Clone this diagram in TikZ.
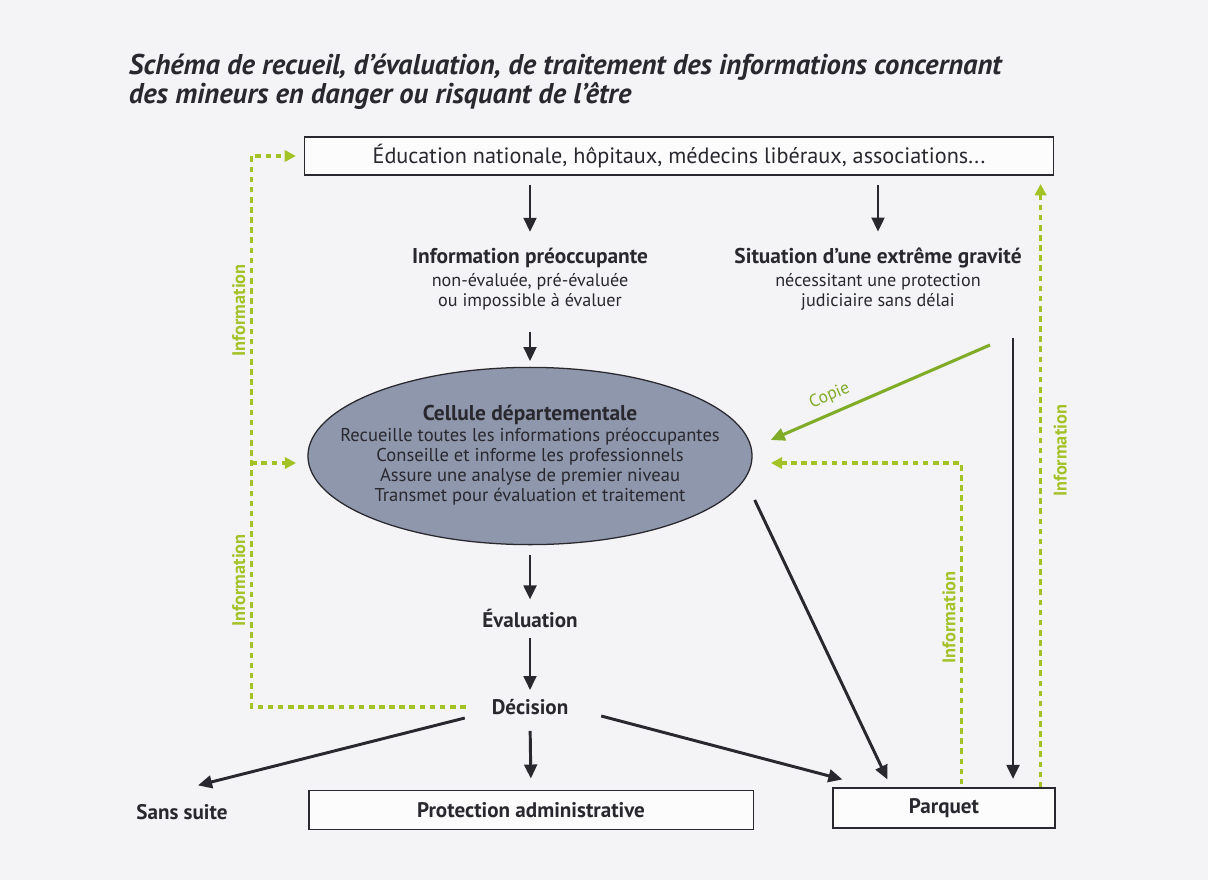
\documentclass[tikz,border=0pt]{standalone}
\usepackage{fontspec}
\setmainfont{PT Sans}
\usetikzlibrary{arrows.meta,positioning,calc,shapes.geometric}
\definecolor{fond}{RGB}{244,244,247}
\definecolor{noir}{RGB}{40,40,46}
\definecolor{vertcopie}{RGB}{128,172,40}
\definecolor{vertinfo}{RGB}{163,194,38}
\definecolor{gris}{RGB}{143,151,173}
\tikzset{
    fleche/.style={draw=noir, line width=2.1pt, -{Triangle[length=10pt,width=9pt]}},
    info/.style={draw=vertinfo, line width=2.4pt, dash pattern=on 4pt off 3.2pt, -{Triangle[length=8pt,width=8pt]}},
    copie/.style={draw=vertcopie, line width=2.2pt, -{Triangle[length=10pt,width=9pt]}},
    boite/.style={draw=noir, line width=0.8pt, fill=white!70!fond, inner sep=0pt},
    texte/.style={align=center, text=noir, font=\fontsize{12.9}{14.2}\selectfont},
    titre/.style={text=noir, font=\fontsize{15}{16}\selectfont\bfseries},
    etiquette/.style={text=vertinfo, font=\fontsize{13}{14}\selectfont\bfseries, inner sep=2pt}
}
\begin{document}
\begin{tikzpicture}[x=0.025cm, y=-0.025cm]
    \fill[fond] (0,0) rectangle (1208,880);
    \useasboundingbox (0,0) rectangle (1208,880);

    % Titre
    \node[anchor=west, align=left, text=noir, font=\fontsize{20.3}{20.5}\selectfont\bfseries\itshape] (entete) at (124,82)
        {Schéma de recueil, d'évaluation, de traitement des informations concernant\\des mineurs en danger ou risquant de l'être};

    % Boites
    \node[boite, minimum width=18.7cm, minimum height=0.95cm, texte, font=\fontsize{15.8}{16}\selectfont] (educ) at (679,156)
        {Éducation nationale, hôpitaux, médecins libéraux, associations...};
    \node[boite, minimum width=11.1cm, minimum height=0.98cm, titre] (protection) at (531,810)
        {Protection administrative};
    \node[boite, minimum width=5.55cm, minimum height=1cm, titre] (parquet) at (944,808)
        {Parquet};

    % Textes
    \node[texte] (infopre) at (530,279)
        {{\bfseries\fontsize{15.2}{16}\selectfont Information préoccupante}\\[2pt]non-évaluée, pré-évaluée\\ou impossible à évaluer};
    \node[texte] (situation) at (878,279)
        {{\bfseries\fontsize{15.2}{16}\selectfont Situation d'une extrême gravité}\\[2pt]nécessitant une protection\\judiciaire sans délai};

    % Cellule
    \node[ellipse, draw=noir, line width=0.9pt, fill=gris, minimum width=11.1cm, minimum height=4.43cm] (cellule) at (530,456) {};
    \node[texte, font=\fontsize{13.2}{14.1}\selectfont] (missions) at (530,455)
        {{\bfseries\fontsize{15.2}{16}\selectfont Cellule départementale}\\[1pt]Recueille toutes les informations préoccupantes\\Conseille et informe les professionnels\\Assure une analyse de premier niveau\\Transmet pour évaluation et traitement};

    \node[titre] (evaluation) at (530,618) {Évaluation};
    \node[titre] (decision) at (530,707) {Décision};
    \node[titre] (sanssuite) at (182,812) {Sans suite};

    % Fleches noires
    \draw[fleche, shorten <=7pt, shorten >=8pt] (infopre.north |- educ.south) -- (infopre.north);
    \draw[fleche, shorten <=7pt, shorten >=8pt] (situation.north |- educ.south) -- (situation.north);
    \draw[fleche, shorten <=12pt, shorten >=4pt] (infopre.south) -- (cellule.north);
    \draw[fleche, shorten <=7pt, shorten >=3pt] (cellule.south) -- (evaluation.north);
    \draw[fleche, shorten <=4pt, shorten >=3pt] (evaluation.south) -- (decision.north);
    \draw[fleche, shorten <=8pt, shorten >=8pt] (decision.south) -- (protection.north);
    \draw[fleche] ($(decision.west)+(-22,11)$) -- ($(sanssuite.north)+(16,-14)$);
    \draw[fleche] ($(decision.east)+(28,9)$) -- ($(parquet.north west)+(10,-8)$);
    \draw[fleche] ($(cellule.east)+(2,44)$) -- ($(parquet.north west)+(55,-8)$);
    \coordinate (depart) at (1013,338);
    \draw[fleche, shorten >=6pt] (depart) -- (depart |- parquet.north);

    % Copie
    \coordinate (copiedep) at (990,345);
    \draw[copie] (copiedep) -- node[pos=0.7, above=2pt, sloped, text=vertcopie, font=\fontsize{12.5}{13}\selectfont] {Copie} ($(cellule.east)+(18,-16)$);

    % Retours d'information
    \coordinate (coin) at ($(educ.west)+(-53,0)$);
    \draw[info, shorten <=15pt, shorten >=6pt] (decision.west) -| node[pos=0.615, above=1pt, sloped, etiquette] {Information}
        node[pos=0.86, above=1pt, sloped, etiquette] {Information} (coin) -- (educ.west);
    \draw[info, shorten >=8pt] ($(coin |- cellule.west)+(0,7)$) -- ($(cellule.west)+(0,7)$);
    \draw[info, shorten >=13pt] ($(parquet.north west)+(129,-3)$) |- node[pos=0.26, above=1pt, sloped, etiquette] {Information} ($(cellule.east)+(0,7)$);
    \coordinate (basdroit) at ($(parquet.north east)+(-15,0)$);
    \draw[info, shorten >=6pt] (basdroit) -- node[pos=0.55, below=6pt, sloped, etiquette] {Information} (basdroit |- educ.south);
\end{tikzpicture}
\end{document}
